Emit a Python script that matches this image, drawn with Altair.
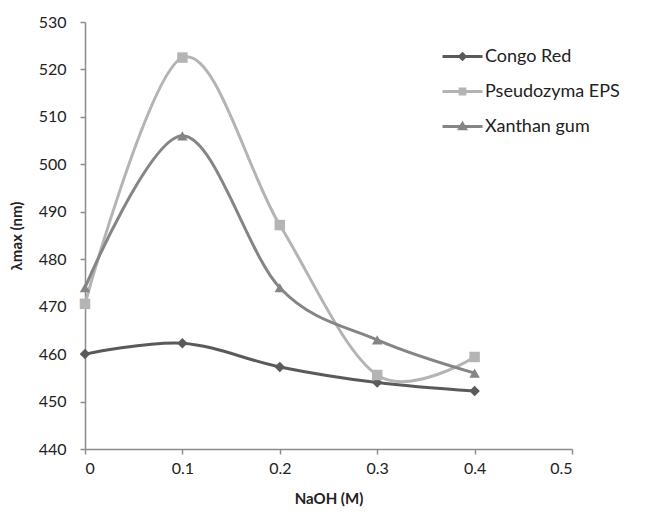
import altair as alt
import pandas as pd

naoh = [0.0, 0.1, 0.2, 0.3, 0.4]
congo_red = [460.0, 462.3, 457.3, 454.0, 452.2]
pseudozyma = [470.6, 522.5, 487.2, 455.6, 459.4]
xanthan = [474.0, 506.0, 474.0, 463.0, 456.0]
series_names = ["Congo Red", "Pseudozyma EPS", "Xanthan gum"]
series_colors = ["#5a5a5a", "#b4b4b4", "#858585"]
marker_shapes = ["diamond", "square", "triangle-up"]
legend_shapes = [
    "M-1.25,0H1.25M0,-0.17L0.17,0L0,0.17L-0.17,0ZM0,-0.08L0.08,0L0,0.08L-0.08,0Z",
    "M-1.25,0H1.25M-0.15,-0.15H0.15V0.15H-0.15ZM-0.07,-0.07H0.07V0.07H-0.07Z",
    "M-1.25,0H1.25M0,-0.18L0.18,0.14L-0.18,0.14ZM0,-0.06L0.08,0.08L-0.08,0.08Z",
]
y_ticks = [440, 450, 460, 470, 480, 490, 500, 510, 520, 530]
x_ticks = [0, 0.1, 0.2, 0.3, 0.4, 0.5]

rows = []
for name, vals in zip(series_names, [congo_red, pseudozyma, xanthan]):
    for i, (x, y) in enumerate(zip(naoh, vals)):
        rows.append({"series": name, "naoh": x, "lam": y, "order": i})
df = pd.DataFrame(rows)

FONT = "Lato"

x_enc = alt.X("naoh:Q", scale=alt.Scale(domain=[0, 0.5], nice=False),
              axis=alt.Axis(values=x_ticks, format="~g", title="NaOH (M)", grid=False,
                            titlePadding=15, labelPadding=6))
y_enc = alt.Y("lam:Q", scale=alt.Scale(domain=[440, 530], nice=False, zero=False),
              axis=alt.Axis(values=y_ticks, title="λmax (nm)", grid=False, titlePadding=14,
                            labelPadding=14))

color_scale = alt.Scale(domain=series_names, range=series_colors)

leg = alt.Legend(title=None, orient="none", legendX=360, legendY=17, symbolSize=1024,
                 symbolStrokeWidth=3, labelOffset=5, rowPadding=8,
                 labelFontSize=18, labelFont=FONT, labelColor="#222222", symbolOpacity=1)

color_enc = alt.Color("series:N", scale=color_scale, legend=leg)

lines = alt.Chart(df).mark_line(interpolate="cardinal", tension=0, strokeWidth=3).encode(
    x=x_enc, y=y_enc,
    color=color_enc,
    order="order:Q",
    detail="series:N",
)

point_layers = []
for name, shp in zip(series_names, marker_shapes):
    point_layers.append(
        alt.Chart(df).transform_filter(alt.datum.series == name)
        .mark_point(filled=True, size=110, opacity=1, shape=shp)
        .encode(x="naoh:Q", y="lam:Q", color=color_enc)
    )

legend_layer = alt.Chart(df).mark_point(opacity=0, filled=False, strokeWidth=3).encode(
    x="naoh:Q", y="lam:Q",
    color=color_enc,
    shape=alt.Shape("series:N", scale=alt.Scale(domain=series_names, range=legend_shapes), legend=leg),
)

chart = alt.layer(lines, *point_layers, legend_layer).properties(
    width=487, height=427,
    autosize=alt.AutoSizeParams(type="none"),
    padding={"left": 77, "top": 14, "right": 66, "bottom": 65},
).configure_view(stroke=None).configure_axis(
    domainColor="#8c8c8c", domainWidth=1.5, tickColor="#8c8c8c", tickWidth=1.5, tickSize=5,
    labelFont=FONT, labelFontSize=16, labelColor="#222222",
    titleFont=FONT, titleFontSize=15, titleColor="#222222", titleFontWeight="bold",
)

chart.save("out.html", embed_options={"renderer": "svg", "actions": False})
